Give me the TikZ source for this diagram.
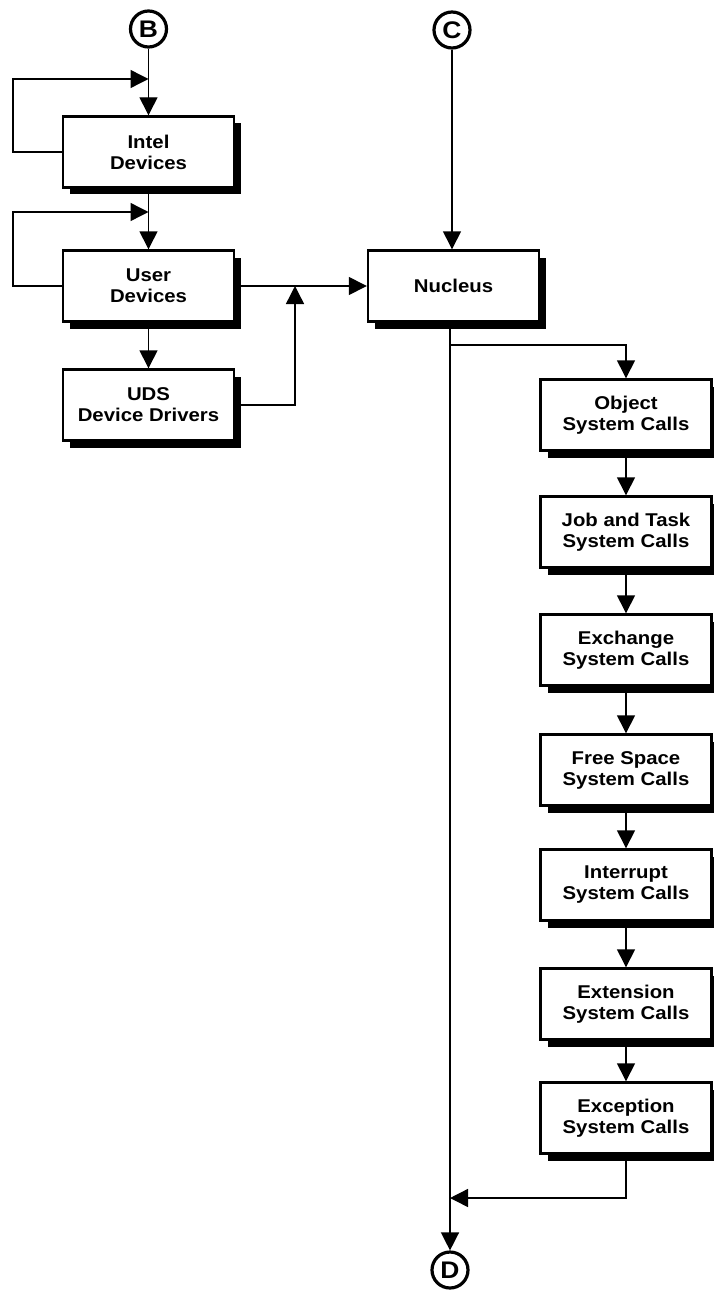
\documentclass[tikz,border=0pt]{standalone}
\usepackage{fontspec}
\setmainfont{Liberation Sans}
\newfontfamily\boxfont[FakeStretch=1.1]{Liberation Sans}
\usetikzlibrary{arrows.meta,shadows}
\begin{document}
\begin{tikzpicture}[x=1pt,y=-1pt,
  blk/.style={draw=black, line width=2.4pt, fill=white,
    minimum width=171pt, minimum height=71pt, inner sep=0pt, align=center,
    font=\boxfont\bfseries\fontsize{18.5}{21}\selectfont,
    general shadow={fill=black, shadow xshift=7pt, shadow yshift=-7pt}},
  conn/.style={draw=black, line width=1.4pt},
  arr/.style={conn, -{Triangle[length=18pt,width=18pt]}},
  term/.style={circle, draw=black, line width=3.2pt, minimum size=36pt, inner sep=0pt,
    font=\boxfont\bfseries\fontsize{24}{24}\selectfont}
]
\useasboundingbox (0,0) rectangle (713,1292);

% left column
\node[term] (B) at (148.5,29) {B};
\node[blk] (intel) at (148.5,152) {Intel\\Devices};
\node[blk] (user) at (148.5,286) {User\\Devices};
\node[blk] (uds) at (148.5,405) {UDS\\Device Drivers};

% centre
\node[term] (C) at (452,30) {C};
\node[blk] (nuc) at (453.5,286) {Nucleus};
\node[term] (D) at (450,1270) {D};

% right column
\node[blk] (obj)  at (626,415)  {Object\\System Calls};
\node[blk] (job)  at (626,532)  {Job and Task\\System Calls};
\node[blk] (exch) at (626,650)  {Exchange\\System Calls};
\node[blk] (free) at (626,770)  {Free Space\\System Calls};
\node[blk] (intr) at (626,885)  {Interrupt\\System Calls};
\node[blk] (ext)  at (626,1004) {Extension\\System Calls};
\node[blk] (exc)  at (626,1118) {Exception\\System Calls};

% junction points
\coordinate (j1) at (148.5,79);
\coordinate (j2) at (148.5,212);
\coordinate (j3) at (295,286);
\coordinate (br) at (450,345);
\coordinate (ret) at (450,1198);

% connectors
\draw[arr] (B) -- (intel);
\draw[arr] (intel.west) -- ++(-49,0) |- (j1);
\draw[arr] (intel) -- (user);
\draw[arr] (user.west) -- ++(-49,0) |- (j2);
\draw[arr] (user) -- (uds);
\draw[arr] (user.east) -- (nuc.west);
\draw[arr] (uds.east) -| (j3);
\draw[arr] (C) -- (C |- nuc.north);
\draw[arr] (nuc.south -| D.north) -- (D.north);
\draw[arr] (br) -| (obj.north);
\draw[arr] (obj) -- (job);
\draw[arr] (job) -- (exch);
\draw[arr] (exch) -- (free);
\draw[arr] (free) -- (intr);
\draw[arr] (intr) -- (ext);
\draw[arr] (ext) -- (exc);
\draw[arr] (exc.south) |- (ret);
\end{tikzpicture}
\end{document}
